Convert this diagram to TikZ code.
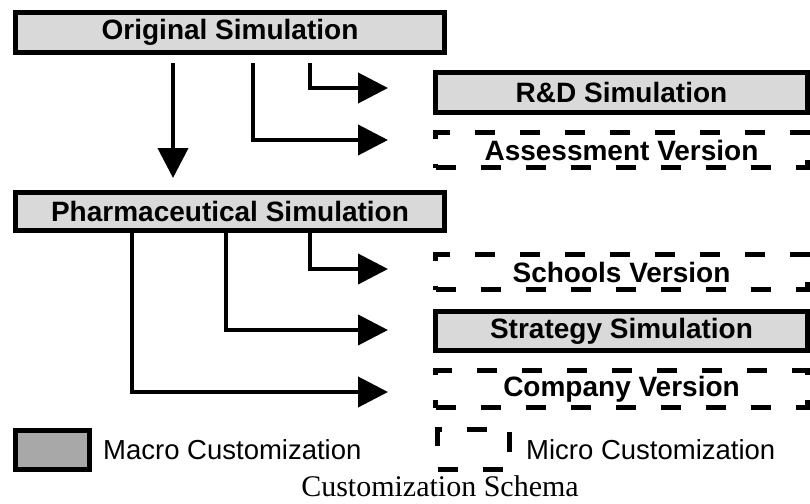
\documentclass[tikz,border=0pt]{standalone}
\usepackage{fontspec}
\setmainfont{Liberation Sans}
\newfontfamily\capfont{Liberation Serif}
\usetikzlibrary{arrows.meta}

\definecolor{boxgray}{gray}{0.85}
\definecolor{keygray}{gray}{0.66}

\tikzset{
	simbox/.style={draw, line width=5pt, fill=boxgray, inner sep=0pt, minimum height=40pt,
		font=\fontsize{28}{30}\selectfont\bfseries},
	verbox/.style={simbox, fill=none, dash pattern=on 20pt off 25pt},
	flow/.style={line width=4pt, -{Triangle[length=30pt,width=30pt]}},
	keytext/.style={anchor=base west, inner sep=0pt, font=\fontsize{27.5}{30}\selectfont},
}

\begin{document}
\begin{tikzpicture}[x=1pt, y=-1pt]
	\useasboundingbox (0,0) rectangle (810,503);

%main simulations
	\node[simbox, minimum width=429pt] (orig) at (230,32.5) {Original Simulation};
	\node[simbox, minimum width=429pt, minimum height=38pt] (pharma) at (230,211.5) {Pharmaceutical Simulation};

%customizations
	\node[simbox, minimum width=372pt] (rnd) at (621.5,92.5) {R\&D Simulation};
	\node[verbox, minimum width=372pt, minimum height=35pt] (assess) at (621.5,150) {Assessment Version};
	\node[verbox, minimum width=372pt, minimum height=35pt] (schools) at (621.5,272) {Schools Version};
	\node[simbox, minimum width=372pt, minimum height=39pt] (strat) at (621.5,331) {Strategy Simulation};
	\node[verbox, minimum width=372pt, minimum height=37pt] (company) at (621.5,389) {Company Version};

%arrows
	\draw[flow, shorten <=8pt, shorten >=12pt] ([xshift=-57pt]orig.south) -- ([xshift=-57pt]pharma.north);
	\draw[flow, shorten <=8pt, shorten >=45pt] ([xshift=80pt]orig.south) |- ([yshift=4.5pt]rnd.west);
	\draw[flow, shorten <=8pt, shorten >=45pt] ([xshift=23pt]orig.south) |- ([yshift=10pt]assess.west);

	\draw[flow, shorten >=45pt] ([xshift=80pt]pharma.south) |- ([yshift=3pt]schools.west);
	\draw[flow, shorten >=45pt] ([xshift=-4pt]pharma.south) |- ([yshift=1pt]strat.west);
	\draw[flow, shorten >=45pt] ([xshift=-98pt]pharma.south) |- ([yshift=-3pt]company.west);

%legend
	\node[simbox, fill=keygray, minimum width=74pt, minimum height=39pt] (macrokey) at (52.5,450) {};
	\node[verbox, minimum width=72pt, minimum height=40pt] (microkey) at (473.5,449.5) {};
	\node[keytext] (macrolbl) at (103,459) {Macro Customization};
	\node[keytext] (microlbl) at (526,459) {Micro Customization};

	\node[anchor=base, inner sep=0pt, font=\capfont\fontsize{30}{32}\selectfont] (caption) at (440,496) {Customization Schema};

\end{tikzpicture}
\end{document}
